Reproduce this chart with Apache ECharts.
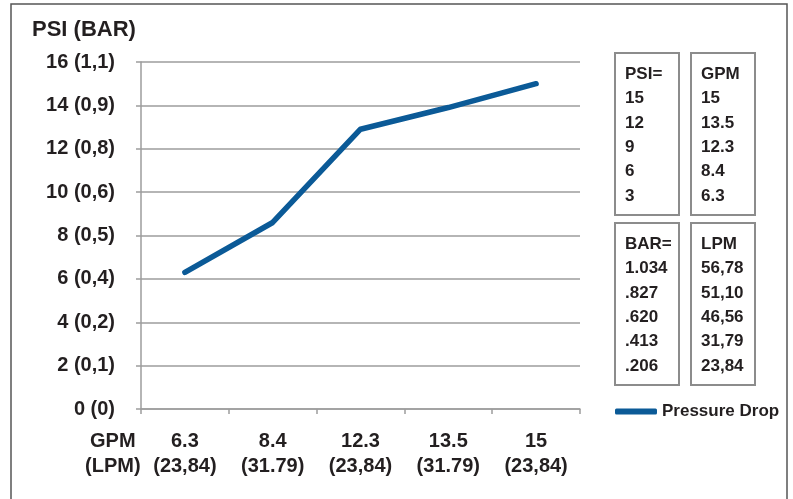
<!DOCTYPE html>
<html>
<head>
<meta charset="utf-8">
<script src="https://cdn.jsdelivr.net/npm/echarts@6/dist/echarts.min.js"></script>
<style>
html,body{margin:0;padding:0;background:#fff;}
#c{width:793px;height:499px;}
</style>
</head>
<body>
<div id="c"></div>
<script>
var categories = ['6.3\n(23,84)', '8.4\n(31.79)', '12.3\n(23,84)', '13.5\n(31.79)', '15\n(23,84)'];
var pressureDrop = [6.3, 8.6, 12.9, 13.9, 15.0];
var yTickLabels = ['0 (0)', '2 (0,1)', '4 (0,2)', '6 (0,4)', '8 (0,5)', '10 (0,6)', '12 (0,8)', '14 (0,9)', '16 (1,1)'];
var psiList = ['PSI=', '15', '12', '9', '6', '3'];
var gpmList = ['GPM', '15', '13.5', '12.3', '8.4', '6.3'];
var barList = ['BAR=', '1.034', '.827', '.620', '.413', '.206'];
var lpmList = ['LPM', '56,78', '51,10', '46,56', '31,79', '23,84'];

var FONT = '"Liberation Sans", Arial, sans-serif';
var TXT = '#231f20';
var GRID = '#9d9d9d';

function box(x, y, lines) {
  return [
    { type: 'rect', shape: { x: x, y: y, width: 64, height: 162 },
      style: { fill: '#fff', stroke: '#8c8c8c', lineWidth: 2 } },
    { type: 'text', left: x + 10, top: y + 9,
      style: { text: lines.join('\n'), font: 'bold 17px ' + FONT, fill: TXT, lineHeight: 24.4 } }
  ];
}

var chart = echarts.init(document.getElementById('c'));
var graphics = [
  { type: 'rect', shape: { x: 11, y: 4, width: 776, height: 500 },
    style: { fill: 'none', stroke: '#555', lineWidth: 1.5 } },
  { type: 'text', left: 32, top: 19,
    style: { text: 'PSI (BAR)', font: 'bold 22px ' + FONT, fill: TXT } },
  { type: 'text', left: 85, top: 429,
    style: { text: 'GPM\n(LPM)', font: 'bold 20px ' + FONT, fill: TXT, lineHeight: 25, textAlign: 'center' } }
].concat(box(615, 53, psiList), box(691, 53, gpmList), box(615, 223, barList), box(691, 223, lpmList));

chart.setOption({
  animation: false,
  backgroundColor: '#fff',
  grid: { left: 141, right: 213, top: 62, bottom: 90 },
  legend: {
    left: 610, top: 398,
    itemWidth: 42, itemHeight: 6, itemGap: 5,
    icon: 'roundRect',
    textStyle: { fontFamily: FONT, fontWeight: 'bold', fontSize: 17, color: TXT },
    data: ['Pressure Drop']
  },
  xAxis: {
    type: 'category',
    data: categories,
    boundaryGap: true,
    axisLine: { lineStyle: { color: GRID, width: 1.5 } },
    axisTick: { show: true, length: 5, lineStyle: { color: GRID, width: 1.5 } },
    axisLabel: { fontFamily: FONT, fontWeight: 'bold', fontSize: 20, color: TXT, lineHeight: 25, margin: 20 }
  },
  yAxis: {
    type: 'value',
    min: 0, max: 16, interval: 2,
    axisLine: { show: true, lineStyle: { color: GRID, width: 1.5 } },
    axisTick: { show: true, length: 5, lineStyle: { color: GRID, width: 1.5 } },
    splitLine: { lineStyle: { color: GRID, width: 1.5 } },
    axisLabel: {
      fontFamily: FONT, fontWeight: 'bold', fontSize: 20, color: TXT, margin: 26,
      formatter: function (v) { return yTickLabels[Math.round(v / 2)]; }
    }
  },
  series: [{
    name: 'Pressure Drop',
    type: 'line',
    data: pressureDrop,
    symbol: 'none',
    itemStyle: { color: '#0b5a97' },
    lineStyle: { color: '#0b5a97', width: 5.5, cap: 'round', join: 'round' }
  }],
  graphic: graphics
});
</script>
</body>
</html>
